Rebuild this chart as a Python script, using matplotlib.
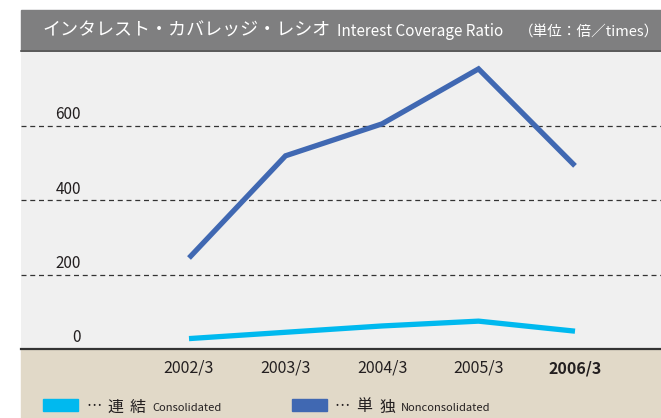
"""
Interest coverage ratio chart (line chart with header band).
"""
import matplotlib
matplotlib.use("Agg")
import matplotlib.pyplot as plt
from matplotlib.patches import Rectangle
from matplotlib.lines import Line2D

W, H = 661, 418

years = ["2002/3", "2003/3", "2004/3", "2005/3", "2006/3"]
consolidated = [28, 45, 62, 75, 48]
nonconsolidated = [245, 520, 606, 754, 493]
y_ticks = [0, 200, 400, 600]

C_CONS = "#00b9ef"
C_NON = "#4068b2"
C_HEAD = "#7f7f80"
C_PLOT = "#f0f0f0"
C_BAND = "#e1d9c8"
C_TEXT = "#231f20"

JP = ["Noto Sans CJK JP", "DejaVu Sans"]
EN = ["Noto Sans CJK JP", "DejaVu Sans"]


def fx(x):
    return x / W


def fy(y):
    return 1 - y / H


fig = plt.figure(figsize=(W / 100, H / 100), dpi=100)
fig.patch.set_facecolor("white")

# header band and bottom band (behind the axes)
fig.patches.append(Rectangle((fx(21), fy(51)), fx(W) - fx(21), fy(10) - fy(51),
                             transform=fig.transFigure, color=C_HEAD, zorder=-2))
fig.lines.append(Line2D([fx(21), 1], [fy(51), fy(51)], transform=fig.transFigure,
                        color="#555555", lw=1.2, zorder=-1))
fig.patches.append(Rectangle((fx(21), 0), 1 - fx(21), fy(349),
                             transform=fig.transFigure, color=C_BAND, zorder=-2))

# plot area: zero at y=349px, 200 units = 74.3px
ymax = (349 - 52) / 74.3 * 200
step = 96.5
ax = fig.add_axes([fx(21), fy(349), 1 - fx(21), fy(52) - fy(349)])
ax.set_facecolor(C_PLOT)
ax.set_xlim((21 - 189) / step, (661 - 189) / step)
ax.set_ylim(0, ymax)
for s in ax.spines.values():
    s.set_visible(False)
ax.set_xticks([])
ax.set_yticks([])

xs = list(range(len(years)))
for v in y_ticks[1:]:
    ax.axhline(v, color="#333333", lw=0.9, ls=(0, (4, 3)), zorder=1)
ax.axhline(0, color="#333333", lw=1.6, zorder=3, clip_on=False)

for v in y_ticks:
    ax.annotate(str(v), xy=((81 - 21) / (W - 21), v), xycoords=("axes fraction", "data"),
                xytext=(0, 8), textcoords="offset points", ha="right", va="center",
                fontsize=11, family=EN, color=C_TEXT)

ax.plot(xs, nonconsolidated, color=C_NON, lw=3.8, solid_capstyle="butt",
        solid_joinstyle="miter", zorder=4)
ax.plot(xs, consolidated, color=C_CONS, lw=3.8, solid_capstyle="butt",
        solid_joinstyle="miter", zorder=4)

# x labels in the bottom band
for i, lab in enumerate(years):
    ax.annotate(lab, xy=(i, 0), xycoords="data", xytext=(0, -14),
                textcoords="offset points", ha="center", va="center",
                fontsize=11.5, family=EN, color=C_TEXT,
                fontweight="bold" if i == len(years) - 1 else "normal",
                annotation_clip=False)

# header texts
fig.text(fx(42), fy(31), "インタレスト・カバレッジ・レシオ", family=JP, fontsize=13,
         color="white", va="center", ha="left")
fig.text(fx(337), fy(32), "Interest Coverage Ratio", family=EN, fontsize=11,
         color="white", va="center", ha="left")
fig.text(fx(659), fy(32), "（単位：倍／times）", family=JP, fontsize=10.5,
         color="white", va="center", ha="right")

# legend
legend_items = [
    (43, C_CONS, ("連", "結"), "Consolidated"),
    (292, C_NON, ("単", "独"), "Nonconsolidated"),
]
for x0, col, jp, en in legend_items:
    fig.patches.append(Rectangle((fx(x0), fy(411)), fx(35), fy(399) - fy(411),
                                 transform=fig.transFigure, color=col))
    fig.text(fx(x0 + 43), fy(407), "…", family=JP, fontsize=11, color=C_TEXT,
             va="center", ha="left")
    for ch, dx in zip(jp, (64, 87)):
        fig.text(fx(x0 + dx), fy(407), ch, family=JP, fontsize=11.5, color=C_TEXT,
                 va="center", ha="left")
    fig.text(fx(x0 + 109), fy(408), en, family=EN, fontsize=8, color=C_TEXT,
             va="center", ha="left")

fig.savefig("out.png", dpi=100)
